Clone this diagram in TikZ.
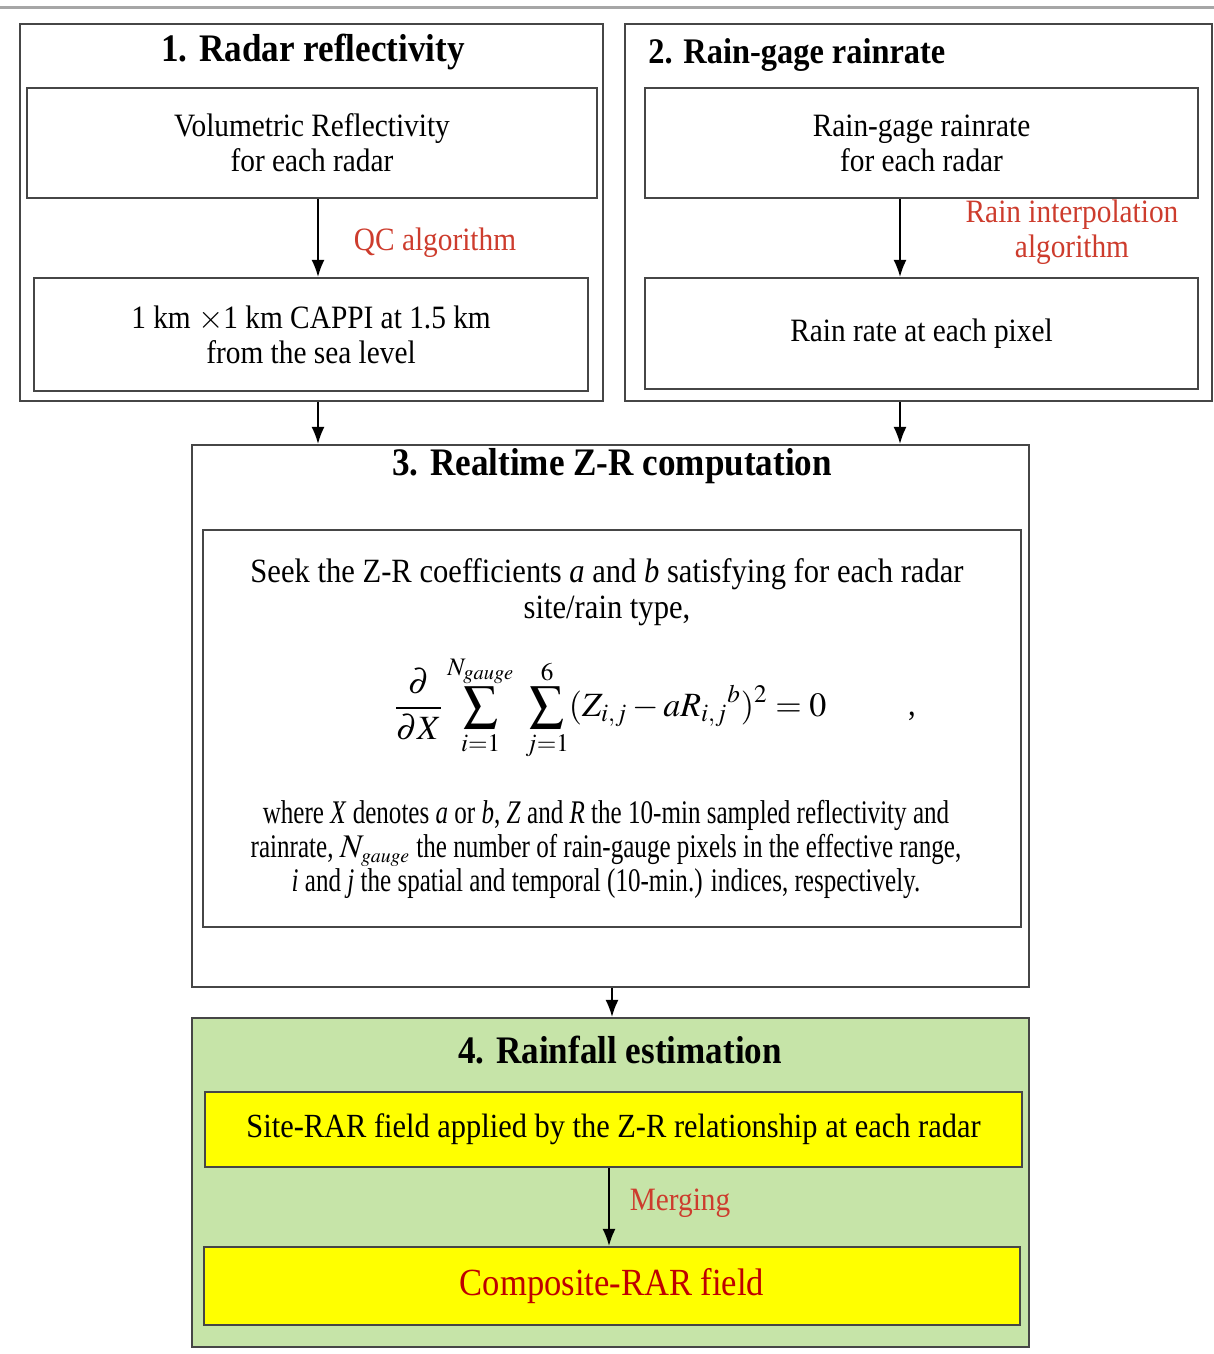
\documentclass[tikz,border=0pt]{standalone}
\usepackage{mathptmx}
\usepackage{fontspec}
\setmainfont[FakeStretch=0.9]{Liberation Serif}
\newfontfamily\narrowfont[FakeStretch=0.76]{Liberation Serif}
\usetikzlibrary{positioning,arrows.meta}
\definecolor{boxline}{RGB}{70,70,70}
\definecolor{labelred}{RGB}{205,60,45}
\definecolor{darkred}{RGB}{190,0,0}
\definecolor{stepgreen}{RGB}{198,228,168}
\definecolor{boxyellow}{RGB}{255,255,0}
\tikzset{
  outerbox/.style={draw=boxline,line width=1.1pt,inner sep=0pt},
  innerbox/.style={draw=boxline,line width=1.1pt,align=center,inner sep=0pt,
    font=\fontsize{16.3}{17.5}\selectfont},
  heading/.style={font=\fontsize{19.5}{21}\selectfont\bfseries,inner sep=0pt},
  steplabel/.style={text=labelred,align=center,inner sep=0pt,
    font=\fontsize{16.3}{17.5}\selectfont},
  arr/.style={-{Latex[length=8.5pt,width=6.5pt]},line width=0.8pt}
}
\begin{document}
\begin{tikzpicture}[x=0.5pt,y=-0.5pt]
\useasboundingbox (0,0) rectangle (1214,1354);
\draw[gray!70,line width=1.5pt] (0,8) -- (1214,8); % top rule
% 1. radar reflectivity
\node[outerbox,minimum width=291.5pt,minimum height=188.5pt] (box1) at (311.5,212.5) {};
\node[heading] (title1) at (313,52) {1. Radar reflectivity};
\node[innerbox,minimum width=285pt,minimum height=55pt] (volref) at (312,143)
  {Volumetric Reflectivity\\for each radar};
\node[innerbox,minimum width=277pt,minimum height=56.5pt] (cappi) at (311,334.5)
  {1 km $\times$1 km CAPPI at 1.5 km\\from the sea level};
\draw[arr] ([xshift=3pt]volref.south) -- ([xshift=3.5pt]cappi.north);
\node[steplabel] (qc) at (435,243) {QC algorithm};
% 2. rain-gage rainrate
\node[outerbox,minimum width=293.5pt,minimum height=188.5pt] (box2) at (918.5,212.5) {};
\node[heading,anchor=west,font=\fontsize{18}{20}\selectfont\bfseries] (title2) at (648,55) {2. Rain-gage rainrate};
\node[innerbox,minimum width=276.5pt,minimum height=55pt] (gagein) at (921.5,143)
  {Rain-gage rainrate\\for each radar};
\node[innerbox,minimum width=276.5pt,minimum height=55.5pt] (pixel) at (921.5,333.5)
  {Rain rate at each pixel};
\draw[arr] ([xshift=-10.75pt]gagein.south) -- ([xshift=-10.75pt]pixel.north);
\node[steplabel] (interp) at (1072,232) {Rain interpolation\\algorithm};
% 3. realtime Z-R computation
\node[outerbox,minimum width=418.5pt,minimum height=271pt] (box3) at (610.5,716) {};
\node[heading] (title3) at (612,466) {3. Realtime Z-R computation};
\node[outerbox,minimum width=409pt,minimum height=198.5pt] (zrbox) at (612,728.5) {};
\node[align=center,inner sep=0pt,font=\fontsize{17}{18}\selectfont] (seek) at (607,592)
  {Seek the Z-R coefficients \textit{a} and \textit{b} satisfying for each radar\\site/rain type,};
\node[inner sep=0pt,font=\fontsize{17}{18}\selectfont] (zreq) at (610,708)
  {$\displaystyle\frac{\partial}{\partial X}\sum_{i=1}^{N_{\scriptscriptstyle gauge}}\;\sum_{j=1}^{6}(Z_{i,j}-aR_{i,j}{}^{b})^{2}=0$};
\node[inner sep=0pt,font=\fontsize{17}{18}\selectfont] (comma) at (912,716) {,};
\node[align=center,inner sep=0pt,font=\fontsize{16.5}{17}\narrowfont] (where) at (606,849)
  {where \textit{X} denotes \textit{a} or \textit{b}, \textit{Z} and \textit{R} the 10-min sampled reflectivity and\\
   rainrate, $N_{\scriptscriptstyle gauge}$ the number of rain-gauge pixels in the effective range,\\
   \textit{i} and \textit{j} the spatial and temporal (10-min.) indices, respectively.};
\draw[arr] ([xshift=3.25pt]box1.south) -- ([xshift=3.25pt]box1.south |- box3.north);
\draw[arr] ([xshift=-9.25pt]box2.south) -- ([xshift=-9.25pt]box2.south |- box3.north);
% 4. rainfall estimation
\node[outerbox,fill=stepgreen,minimum width=418.5pt,minimum height=164.5pt] (box4) at (610.5,1182.5) {};
\draw[arr] ([xshift=0.75pt]box3.south) -- ([xshift=0.75pt]box4.north);
\node[heading] (title4) at (620,1050) {4. Rainfall estimation};
\node[innerbox,fill=boxyellow,minimum width=408.5pt,minimum height=37.5pt,
  font=\fontsize{16.9}{18}\selectfont] (siterar) at (613.5,1129.5)
  {Site-RAR field applied by the Z-R relationship at each radar};
\node[innerbox,fill=boxyellow,minimum width=408pt,minimum height=39pt,text=darkred,
  font=\fontsize{19.2}{20}\selectfont] (comprar) at (612,1286) {Composite-RAR field};
\draw[arr] ([xshift=-2.25pt]siterar.south) -- ([xshift=-1.5pt]comprar.north);
\node[steplabel] (merge) at (680,1203) {Merging};
\end{tikzpicture}
\end{document}
